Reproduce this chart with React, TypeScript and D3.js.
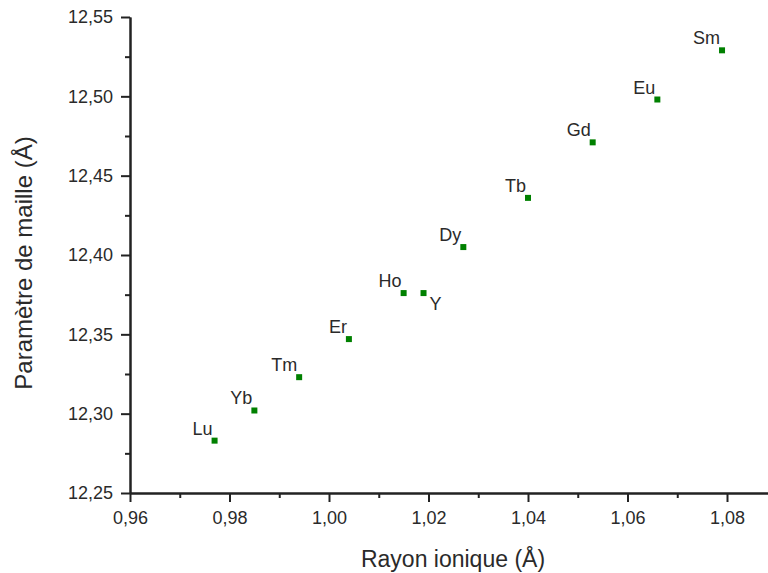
import React, { useRef, useEffect } from 'react';
import * as d3 from 'd3';

// Garnet lattice parameter vs ionic radius
const elements = ['Lu', 'Yb', 'Tm', 'Er', 'Ho', 'Y', 'Dy', 'Tb', 'Gd', 'Eu', 'Sm'];
const ionicRadius = [0.977, 0.985, 0.994, 1.004, 1.015, 1.019, 1.027, 1.040, 1.053, 1.066, 1.079];
const latticeParam = [12.283, 12.302, 12.323, 12.347, 12.376, 12.376, 12.405, 12.436, 12.471, 12.498, 12.529];

const xMajorTicks = [0.96, 0.98, 1.0, 1.02, 1.04, 1.06, 1.08];
const xMinorTicks = [0.97, 0.99, 1.01, 1.03, 1.05, 1.07];
const yMajorTicks = [12.25, 12.3, 12.35, 12.4, 12.45, 12.5, 12.55];
const yMinorTicks = [12.275, 12.325, 12.375, 12.425, 12.475, 12.525];

const width = 768;
const height = 573;
const FONT = '"Liberation Sans", Arial, sans-serif';

const App: React.FC = () => {
  const svgRef = useRef<SVGSVGElement>(null);

  useEffect(() => {
    if (!svgRef.current) return;
    const svg = d3.select(svgRef.current);
    svg.selectAll('*').remove();

    const margin = { top: 17, right: 0, bottom: 80, left: 130 };
    const innerWidth = width - margin.left - margin.right;
    const innerHeight = height - margin.top - margin.bottom;

    const g = svg.append('g')
      .attr('transform', `translate(${margin.left}, ${margin.top})`);

    const xScale = d3.scaleLinear().domain([0.96, 1.08824]).range([0, innerWidth]);
    const yScale = d3.scaleLinear().domain([12.25, 12.55]).range([innerHeight, 0]);

    const fmt = (d: d3.NumberValue) => d3.format('.2f')(+d).replace('.', ',');

    const styleAxis = (sel: d3.Selection<SVGGElement, unknown, null, undefined>) => {
      sel.select('.domain').attr('stroke', '#222').attr('stroke-width', 2);
      sel.selectAll('.tick line').attr('stroke', '#222').attr('stroke-width', 2);
      sel.selectAll('.tick text')
        .attr('fill', '#2a2a2a')
        .style('font-family', FONT)
        .style('font-size', '18px');
    };

    // minor ticks
    g.append('g')
      .attr('transform', `translate(0, ${innerHeight})`)
      .call(d3.axisBottom(xScale).tickValues(xMinorTicks).tickSize(5).tickSizeOuter(0).tickFormat(() => ''))
      .call(styleAxis);
    g.append('g')
      .call(d3.axisLeft(yScale).tickValues(yMinorTicks).tickSize(5).tickSizeOuter(0).tickFormat(() => ''))
      .call(styleAxis);

    // major ticks
    g.append('g')
      .attr('transform', `translate(0, ${innerHeight})`)
      .call(d3.axisBottom(xScale).tickValues(xMajorTicks).tickSize(9).tickSizeOuter(0).tickPadding(9).tickFormat(fmt))
      .call(styleAxis);
    g.append('g')
      .call(d3.axisLeft(yScale).tickValues(yMajorTicks).tickSize(9).tickSizeOuter(0).tickPadding(8).tickFormat(fmt))
      .call(styleAxis);

    // points
    const idx = d3.range(elements.length);
    g.selectAll('.pt')
      .data(idx)
      .enter()
      .append('rect')
      .attr('class', 'pt')
      .attr('x', i => xScale(ionicRadius[i]) - 3)
      .attr('y', i => yScale(latticeParam[i]) - 3)
      .attr('width', 6)
      .attr('height', 6)
      .attr('fill', '#008000');

    // labels (Y sits below-right of its point, others above-left)
    g.selectAll('.lbl')
      .data(idx)
      .enter()
      .append('text')
      .attr('class', 'lbl')
      .attr('x', i => elements[i] === 'Y' ? xScale(ionicRadius[i]) + 6 : xScale(ionicRadius[i]) - 2)
      .attr('y', i => elements[i] === 'Y' ? yScale(latticeParam[i]) + 17 : yScale(latticeParam[i]) - 6)
      .attr('text-anchor', i => elements[i] === 'Y' ? 'start' : 'end')
      .attr('fill', '#2a2a2a')
      .style('font-family', FONT)
      .style('font-size', '18px')
      .text(i => elements[i]);

    // axis titles
    svg.append('text')
      .attr('x', 453)
      .attr('y', 567)
      .attr('text-anchor', 'middle')
      .attr('fill', '#2a2a2a')
      .style('font-family', FONT)
      .style('font-size', '23px')
      .text('Rayon ionique (Å)');

    svg.append('text')
      .attr('transform', 'translate(32, 263) rotate(-90)')
      .attr('text-anchor', 'middle')
      .attr('fill', '#2a2a2a')
      .style('font-family', FONT)
      .style('font-size', '24px')
      .text('Paramètre de maille (Å)');
  }, []);

  return (
    <svg
      ref={svgRef}
      width={width}
      height={height}
      style={{ position: 'absolute', left: 0, top: 0, background: 'white' }}
    />
  );
};

export default App;
